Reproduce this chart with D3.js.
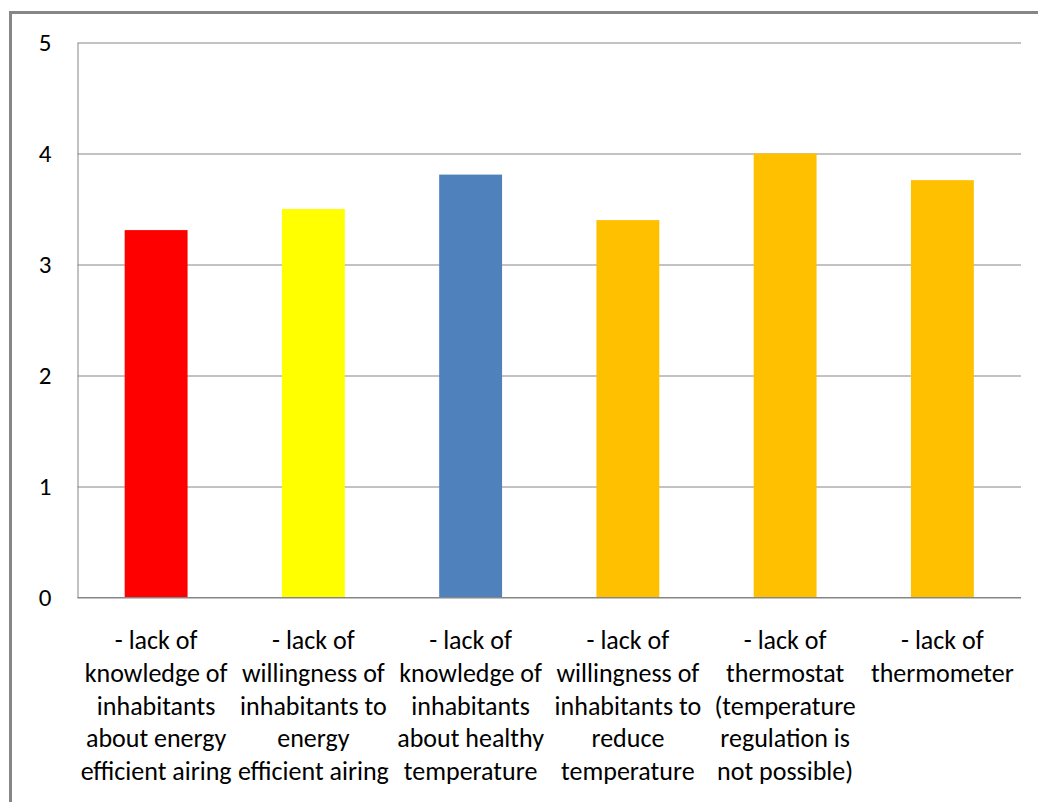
<!DOCTYPE html>
<html>
<head>
<meta charset="utf-8">
<script src="https://cdn.jsdelivr.net/npm/d3@7"></script>
<style>
  html, body { margin: 0; padding: 0; background: #fff; }
  svg { display: block; }
  text { font-family: Calibri, Carlito, Lato, sans-serif; fill: #000; }
</style>
</head>
<body>
<svg id="chart" width="1038" height="802"></svg>
<script>
// Barriers to healthy and energy-efficient indoor climate (mean score, 0–5)
const categories = [
  ["- lack of", "knowledge of", "inhabitants", "about energy", "efficient airing"],
  ["- lack of", "willingness of", "inhabitants to", "energy", "efficient airing"],
  ["- lack of", "knowledge of", "inhabitants", "about healthy", "temperature"],
  ["- lack of", "willingness of", "inhabitants to", "reduce", "temperature"],
  ["- lack of", "thermostat", "(temperature", "regulation is", "not possible)"],
  ["- lack of", "thermometer"]
];
const values = [3.31, 3.50, 3.81, 3.40, 4.00, 3.76];
const barColors = ["#FF0000", "#FFFF00", "#4F81BD", "#FFC000", "#FFC000", "#FFC000"];
const yTicks = [0, 1, 2, 3, 4, 5];

const svg = d3.select("#chart");
const plot = { left: 77.5, top: 42.5, right: 1021, bottom: 597.5 };

// Chart area frame
svg.append("rect")
  .attr("x", 10.5).attr("y", 12.5)
  .attr("width", 1200).attr("height", 1000)
  .attr("fill", "none")
  .attr("stroke", "#868686")
  .attr("stroke-width", 3);

const x = d3.scaleBand()
  .domain(d3.range(categories.length))
  .range([plot.left, plot.right])
  .paddingInner(0.6)
  .paddingOuter(0.3);

const y = d3.scaleLinear()
  .domain([0, 5])
  .range([plot.bottom, plot.top]);

// Value axis with gridlines
const yAxis = svg.append("g")
  .attr("transform", `translate(${plot.left},0)`)
  .call(d3.axisLeft(y)
    .tickValues(yTicks)
    .tickFormat(d3.format("d"))
    .tickSize(-(plot.right - plot.left))
    .tickSizeOuter(0)
    .tickPadding(26));
yAxis.select(".domain").attr("stroke", "#868686");
yAxis.selectAll(".tick line").attr("stroke", "#868686");
yAxis.selectAll(".tick text")
  .attr("font-size", 25)
  .attr("fill", "#000");

// Bars
svg.append("g")
  .selectAll("rect")
  .data(values)
  .join("rect")
  .attr("x", (d, i) => x(i))
  .attr("y", d => y(d))
  .attr("width", x.bandwidth())
  .attr("height", d => y(0) - y(d))
  .attr("fill", (d, i) => barColors[i]);

// Redraw the baseline over the bars
svg.append("line")
  .attr("x1", plot.left).attr("x2", plot.right)
  .attr("y1", y(0)).attr("y2", y(0))
  .attr("stroke", "#868686");

// Category labels, one line per tspan
const lineGap = 32.8;
const labels = svg.append("g")
  .selectAll("text")
  .data(categories)
  .join("text")
  .attr("text-anchor", "middle")
  .attr("font-size", 26)
  .attr("x", (d, i) => x(i) + x.bandwidth() / 2)
  .attr("y", 649);
labels.selectAll("tspan")
  .data((d, i) => d.map(line => ({ line, i })))
  .join("tspan")
  .attr("x", d => x(d.i) + x.bandwidth() / 2)
  .attr("dy", (d, j) => j === 0 ? 0 : lineGap)
  .text(d => d.line);
</script>
</body>
</html>
